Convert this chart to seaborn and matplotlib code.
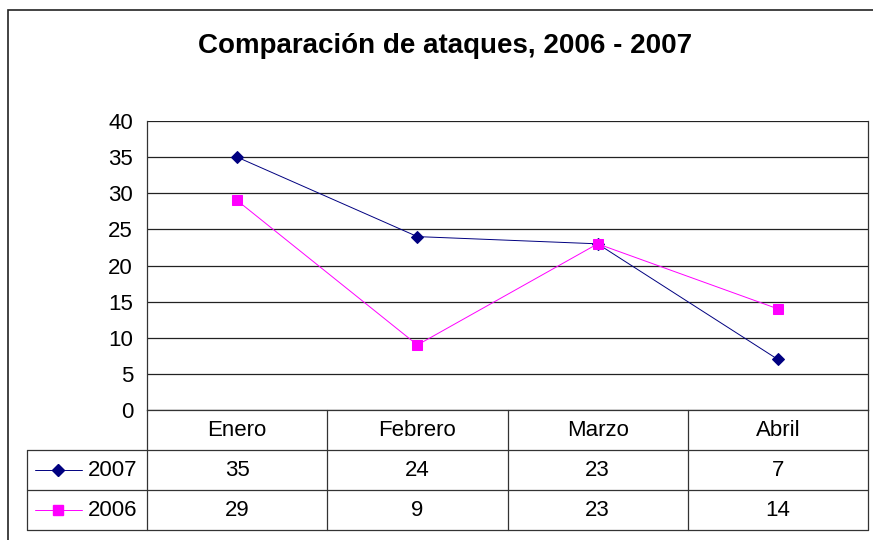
import pandas as pd
import seaborn as sns
import matplotlib.pyplot as plt
from matplotlib.lines import Line2D
from matplotlib.patches import Rectangle

months = ["Enero", "Febrero", "Marzo", "Abril"]
y2007 = [35, 24, 23, 7]
y2006 = [29, 9, 23, 14]
series = ["2007", "2006"]
colors = {"2007": "#000080", "2006": "#FF00FF"}
markers = {"2007": "D", "2006": "s"}

data = pd.DataFrame({
    "mes": months * 2,
    "ataques": y2007 + y2006,
    "anio": ["2007"] * 4 + ["2006"] * 4,
})

sns.set_style("white")
plt.rcParams["font.family"] = ["Liberation Sans", "DejaVu Sans"]
plt.rcParams["text.color"] = "black"
plt.rcParams["ytick.labelcolor"] = "black"

W, H = 873, 540
fig = plt.figure(figsize=(W / 100, H / 100), dpi=100)

def fx(x):
    return x / W

def fy(y):
    return 1 - y / H

# plot area in pixels
L, R, T, B = 147, 868, 121, 410
ax = fig.add_axes([fx(L), fy(B), fx(R) - fx(L), fy(T) - fy(B)])

sns.lineplot(data=data, x="mes", y="ataques", hue="anio", style="anio",
             palette=colors, markers=markers, dashes=False, sort=False,
             linewidth=0.7, markersize=6.5,
             legend=False, ax=ax)
for ln in ax.lines:
    ln.set_markeredgecolor(ln.get_color())

ax.set_xlim(-0.5, 3.5)
ax.set_ylim(0, 40)
ax.set_yticks(range(0, 41, 5))
ax.set_xticks([])
ax.set_xlabel("")
ax.set_ylabel("")
ax.grid(axis="y", color="#222222", linewidth=0.9)
ax.set_axisbelow(True)
ax.tick_params(axis="y", direction="out", length=6, width=0.8,
               color="#333333", labelsize=16, pad=4, labelcolor="black")
ax.spines["top"].set_visible(False)
for s in ["left", "right", "bottom"]:
    ax.spines[s].set_color("#333333")
    ax.spines[s].set_linewidth(0.9)

# data table under the plot
row_h = 40
tl = 27
col_w = (R - L) / 4
lc = "#333333"
fs = 16
for y in [B + row_h, B + 2 * row_h, B + 3 * row_h]:
    fig.add_artist(Line2D([fx(tl), fx(R)], [fy(y), fy(y)], color=lc, lw=0.9))
fig.add_artist(Line2D([fx(tl), fx(tl)], [fy(B + row_h), fy(B + 3 * row_h)], color=lc, lw=0.9))
for i in range(5):
    x = L + i * col_w
    fig.add_artist(Line2D([fx(x), fx(x)], [fy(B), fy(B + 3 * row_h)], color=lc, lw=0.9))

for i, m in enumerate(months):
    fig.text(fx(L + (i + 0.5) * col_w), fy(B + row_h / 2), m,
             ha="center", va="center", fontsize=fs)

rows = {"2007": y2007, "2006": y2006}
for r, name in enumerate(series):
    yc = B + row_h * (r + 1.5)
    fig.add_artist(Line2D([fx(35), fx(82)], [fy(yc), fy(yc)], color=colors[name], lw=0.7))
    fig.add_artist(Line2D([fx(58)], [fy(yc)], color=colors[name], marker=markers[name],
                          markersize=6.5, markeredgecolor=colors[name], lw=0))
    fig.text(fx(88), fy(yc), name, ha="left", va="center", fontsize=fs)
    for i, v in enumerate(rows[name]):
        fig.text(fx(L + (i + 0.5) * col_w), fy(yc), str(v),
                 ha="center", va="center", fontsize=fs)

# chart frame
fig.add_artist(Rectangle((fx(8), fy(H + 20)), 1.2, fy(10) - fy(H + 20),
                         fill=False, edgecolor="#222222", lw=1.2,
                         transform=fig.transFigure))

fig.text(fx(445), fy(46), "Comparación de ataques, 2006 - 2007",
         ha="center", va="center", fontsize=20, fontweight="bold")

fig.savefig("out.png", dpi=100)
